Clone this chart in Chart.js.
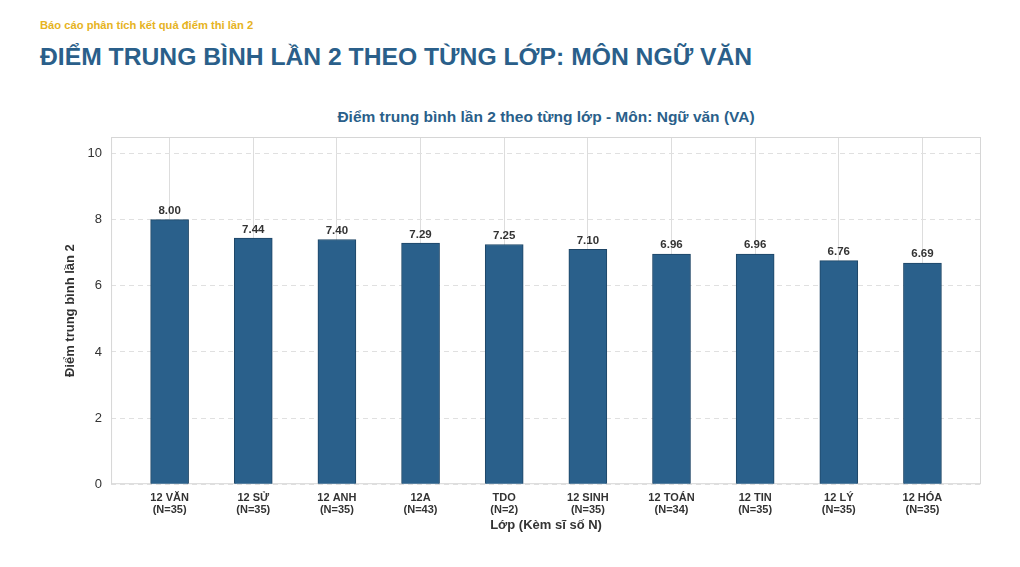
<!DOCTYPE html>
<html lang="vi">
<head>
<meta charset="utf-8">
<title>Điểm trung bình lần 2 theo từng lớp</title>
<script src="https://cdn.jsdelivr.net/npm/chart.js@4.4.0/dist/chart.umd.min.js"></script>
<style>
    html, body { margin: 0; padding: 0; background: #fff; }
    body { width: 1020px; height: 567px; position: relative; overflow: hidden; font-family: "Liberation Sans", Arial, sans-serif; }
    .report-label { position: absolute; left: 40px; top: 19px; font-size: 11.2px; font-weight: bold; color: #e6b322; }
    .page-title { position: absolute; left: 40px; top: 43px; font-size: 24.7px; font-weight: bold; color: #2a5f8a; }
    .chart-title { position: absolute; left: 146px; top: 108px; width: 800px; text-align: center; font-size: 15.5px; font-weight: bold; color: #2a5f8a; }
    .chart-box { position: absolute; left: 0; top: 100px; width: 1020px; height: 440px; }
</style>
</head>
<body>
<div class="report-label">Báo cáo phân tích kết quả điểm thi lần 2</div>
<div class="page-title">ĐIỂM TRUNG BÌNH LẦN 2 THEO TỪNG LỚP: MÔN NGỮ VĂN</div>
<div class="chart-title">Điểm trung bình lần 2 theo từng lớp - Môn: Ngữ văn (VA)</div>
<div class="chart-box"><canvas id="scoreChart"></canvas></div>

<script>
// Chart data
const classNames = ['12 VĂN', '12 SỬ', '12 ANH', '12A', 'TDO', '12 SINH', '12 TOÁN', '12 TIN', '12 LÝ', '12 HÓA'];
const classSizes = [35, 35, 35, 43, 2, 35, 34, 35, 35, 35];
const avgScores = [8.00, 7.44, 7.40, 7.29, 7.25, 7.10, 6.96, 6.96, 6.76, 6.69];
const yTicks = [0, 2, 4, 6, 8, 10];

// Frame around the plot area
const frameBox = {
    id: 'frameBox',
    beforeDatasetsDraw(chart) {
        const a = chart.chartArea;
        const ctx = chart.ctx;
        ctx.save();
        ctx.strokeStyle = '#d6d6d6';
        ctx.lineWidth = 1;
        ctx.strokeRect(a.left + 0.5, a.top + 0.5, a.right - a.left - 1, a.bottom - a.top - 1);
        ctx.restore();
    }
};

// Value labels above bars
const barValues = {
    id: 'barValues',
    afterDatasetsDraw(chart) {
        const ctx = chart.ctx;
        const meta = chart.getDatasetMeta(0);
        ctx.save();
        ctx.font = 'bold 11.5px "Liberation Sans", Arial, sans-serif';
        ctx.fillStyle = '#333333';
        ctx.textAlign = 'center';
        ctx.textBaseline = 'bottom';
        meta.data.forEach(function(bar, i) {
            ctx.fillText(avgScores[i].toFixed(2), bar.x, bar.y - 3);
        });
        ctx.restore();
    }
};

document.addEventListener('DOMContentLoaded', function() {
    const canvas = document.getElementById('scoreChart');

    new Chart(canvas, {
        type: 'bar',
        data: {
            datasets: [{
                data: avgScores.map((v, i) => ({ x: i, y: v })),
                backgroundColor: '#2a608b',
                borderColor: '#1e4566',
                borderWidth: 1,
                barThickness: 38
            }]
        },
        options: {
            responsive: true,
            maintainAspectRatio: false,
            animation: false,
            layout: { padding: { left: 63, right: 39, top: 37, bottom: 7 } },
            plugins: {
                legend: { display: false },
                tooltip: { enabled: false }
            },
            scales: {
                x: {
                    type: 'linear',
                    offset: false,
                    min: -0.7,
                    max: 9.7,
                    afterBuildTicks: function(scale) {
                        scale.ticks = classNames.map((_, i) => ({ value: i }));
                    },
                    ticks: {
                        autoSkip: false,
                        maxRotation: 0,
                        padding: 8,
                        color: '#333333',
                        font: { family: '"Liberation Sans", Arial, sans-serif', size: 11, weight: 'bold', lineHeight: 1.1 },
                        callback: function(value) {
                            const i = Math.round(value);
                            return [classNames[i], '(N=' + classSizes[i] + ')'];
                        }
                    },
                    grid: { offset: false, color: '#dddddd', lineWidth: 1, drawTicks: false },
                    border: { display: false },
                    title: {
                        display: true,
                        text: 'Lớp (Kèm sĩ số N)',
                        color: '#333333',
                        font: { family: '"Liberation Sans", Arial, sans-serif', size: 13, weight: 'bold' },
                        padding: { top: -7, bottom: 0 }
                    }
                },
                y: {
                    min: 0,
                    max: 10.5,
                    afterBuildTicks: function(scale) {
                        scale.ticks = yTicks.map(v => ({ value: v }));
                    },
                    ticks: {
                        padding: 9,
                        color: '#333333',
                        font: { family: '"Liberation Sans", Arial, sans-serif', size: 13 }
                    },
                    grid: { color: '#e0e0e0', lineWidth: 1, drawTicks: false },
                    border: { display: false, dash: [5, 4] },
                    title: {
                        display: true,
                        text: 'Điểm trung bình lần 2',
                        color: '#333333',
                        font: { family: '"Liberation Sans", Arial, sans-serif', size: 13, weight: 'bold' },
                        padding: { top: 0, bottom: 0 }
                    }
                }
            }
        },
        plugins: [frameBox, barValues]
    });
});
</script>
</body>
</html>
